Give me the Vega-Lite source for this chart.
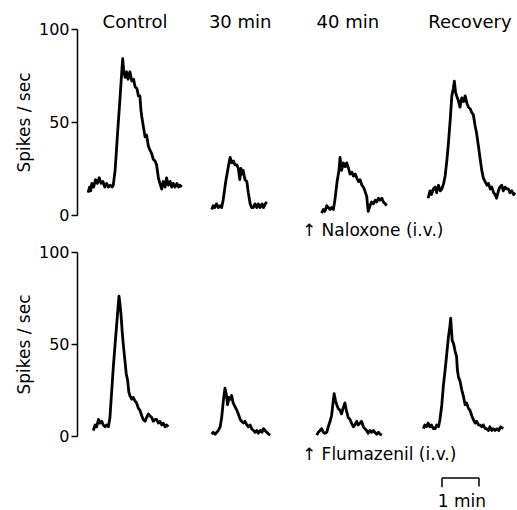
{
  "$schema": "https://vega.github.io/schema/vega-lite/v6.json",
  "autosize": "none",
  "padding": {"left": 77, "top": 29, "right": 440, "bottom": 481},
  "background": "white",
  "config": {
    "view": {"stroke": null},
    "font": "DejaVu Sans",
    "axisY": {
      "domainColor": "black", "domainWidth": 1.5, "tickColor": "black", "tickWidth": 1.5, "tickSize": 6,
      "labelFont": "DejaVu Sans", "labelFontSize": 16, "labelColor": "black", "labelPadding": 2,
      "titleFont": "DejaVu Sans", "titleFontSize": 17, "titleFontWeight": "normal", "titleColor": "black", "titlePadding": 5,
      "grid": false
    }
  },
  "datasets": {
    "top": [
      {"c":"Control","t":0.30,"v":12},{"c":"Control","t":0.34,"v":15},{"c":"Control","t":0.37,"v":13},{"c":"Control","t":0.40,"v":17},{"c":"Control","t":0.45,"v":15},{"c":"Control","t":0.50,"v":19},{"c":"Control","t":0.55,"v":17},{"c":"Control","t":0.60,"v":20},{"c":"Control","t":0.65,"v":17},{"c":"Control","t":0.70,"v":18},{"c":"Control","t":0.75,"v":15},{"c":"Control","t":0.80,"v":17},{"c":"Control","t":0.85,"v":15},{"c":"Control","t":0.90,"v":16},{"c":"Control","t":0.95,"v":15},{"c":"Control","t":0.98,"v":16},{"c":"Control","t":1.03,"v":24},{"c":"Control","t":1.10,"v":45},{"c":"Control","t":1.16,"v":62},{"c":"Control","t":1.22,"v":80},{"c":"Control","t":1.235,"v":84},{"c":"Control","t":1.26,"v":78},{"c":"Control","t":1.30,"v":74},{"c":"Control","t":1.34,"v":77},{"c":"Control","t":1.38,"v":73},{"c":"Control","t":1.43,"v":77},{"c":"Control","t":1.48,"v":72},{"c":"Control","t":1.53,"v":73},{"c":"Control","t":1.57,"v":69},{"c":"Control","t":1.62,"v":68},{"c":"Control","t":1.66,"v":64},{"c":"Control","t":1.70,"v":64},{"c":"Control","t":1.73,"v":56},{"c":"Control","t":1.75,"v":53},{"c":"Control","t":1.79,"v":48},{"c":"Control","t":1.84,"v":42},{"c":"Control","t":1.88,"v":43},{"c":"Control","t":1.93,"v":37},{"c":"Control","t":1.97,"v":35},{"c":"Control","t":2.02,"v":33},{"c":"Control","t":2.06,"v":30},{"c":"Control","t":2.11,"v":29},{"c":"Control","t":2.15,"v":27},{"c":"Control","t":2.20,"v":20},{"c":"Control","t":2.24,"v":17},{"c":"Control","t":2.29,"v":14},{"c":"Control","t":2.33,"v":18},{"c":"Control","t":2.38,"v":15},{"c":"Control","t":2.42,"v":20},{"c":"Control","t":2.47,"v":16},{"c":"Control","t":2.52,"v":18},{"c":"Control","t":2.56,"v":15},{"c":"Control","t":2.60,"v":17},{"c":"Control","t":2.65,"v":15},{"c":"Control","t":2.70,"v":17},{"c":"Control","t":2.75,"v":15},{"c":"Control","t":2.78,"v":16},{"c":"Control","t":2.83,"v":15},
      {"c":"30 min","t":3.64,"v":3},{"c":"30 min","t":3.68,"v":5},{"c":"30 min","t":3.72,"v":4},{"c":"30 min","t":3.77,"v":6},{"c":"30 min","t":3.82,"v":4},{"c":"30 min","t":3.87,"v":5},{"c":"30 min","t":3.91,"v":4},{"c":"30 min","t":3.95,"v":8},{"c":"30 min","t":4.02,"v":18},{"c":"30 min","t":4.09,"v":26},{"c":"30 min","t":4.14,"v":31},{"c":"30 min","t":4.18,"v":28},{"c":"30 min","t":4.23,"v":29},{"c":"30 min","t":4.27,"v":27},{"c":"30 min","t":4.32,"v":27},{"c":"30 min","t":4.36,"v":25},{"c":"30 min","t":4.40,"v":19},{"c":"30 min","t":4.43,"v":25},{"c":"30 min","t":4.46,"v":22},{"c":"30 min","t":4.49,"v":24},{"c":"30 min","t":4.54,"v":19},{"c":"30 min","t":4.59,"v":18},{"c":"30 min","t":4.63,"v":12},{"c":"30 min","t":4.68,"v":6},{"c":"30 min","t":4.72,"v":4},{"c":"30 min","t":4.76,"v":4},{"c":"30 min","t":4.81,"v":6},{"c":"30 min","t":4.86,"v":4},{"c":"30 min","t":4.90,"v":6},{"c":"30 min","t":4.95,"v":4},{"c":"30 min","t":5.00,"v":6},{"c":"30 min","t":5.04,"v":4},{"c":"30 min","t":5.09,"v":6},{"c":"30 min","t":5.13,"v":7},
      {"c":"40 min","t":6.61,"v":1},{"c":"40 min","t":6.66,"v":3},{"c":"40 min","t":6.70,"v":2},{"c":"40 min","t":6.75,"v":5},{"c":"40 min","t":6.79,"v":4},{"c":"40 min","t":6.84,"v":3},{"c":"40 min","t":6.88,"v":4},{"c":"40 min","t":6.93,"v":3},{"c":"40 min","t":6.97,"v":8},{"c":"40 min","t":7.03,"v":18},{"c":"40 min","t":7.08,"v":24},{"c":"40 min","t":7.11,"v":31},{"c":"40 min","t":7.15,"v":24},{"c":"40 min","t":7.20,"v":28},{"c":"40 min","t":7.25,"v":26},{"c":"40 min","t":7.29,"v":28},{"c":"40 min","t":7.34,"v":25},{"c":"40 min","t":7.38,"v":22},{"c":"40 min","t":7.43,"v":23},{"c":"40 min","t":7.47,"v":21},{"c":"40 min","t":7.52,"v":22},{"c":"40 min","t":7.56,"v":20},{"c":"40 min","t":7.61,"v":18},{"c":"40 min","t":7.65,"v":19},{"c":"40 min","t":7.70,"v":16},{"c":"40 min","t":7.74,"v":15},{"c":"40 min","t":7.78,"v":13},{"c":"40 min","t":7.83,"v":10},{"c":"40 min","t":7.87,"v":2},{"c":"40 min","t":7.92,"v":5},{"c":"40 min","t":7.96,"v":7},{"c":"40 min","t":8.01,"v":6},{"c":"40 min","t":8.06,"v":8},{"c":"40 min","t":8.10,"v":7},{"c":"40 min","t":8.15,"v":9},{"c":"40 min","t":8.19,"v":8},{"c":"40 min","t":8.24,"v":9},{"c":"40 min","t":8.28,"v":7},{"c":"40 min","t":8.33,"v":6},{"c":"40 min","t":8.37,"v":5},
      {"c":"Recovery","t":9.49,"v":9},{"c":"Recovery","t":9.54,"v":13},{"c":"Recovery","t":9.58,"v":11},{"c":"Recovery","t":9.63,"v":14},{"c":"Recovery","t":9.68,"v":15},{"c":"Recovery","t":9.72,"v":12},{"c":"Recovery","t":9.77,"v":16},{"c":"Recovery","t":9.82,"v":13},{"c":"Recovery","t":9.86,"v":14},{"c":"Recovery","t":9.91,"v":17},{"c":"Recovery","t":9.95,"v":21},{"c":"Recovery","t":10.00,"v":30},{"c":"Recovery","t":10.04,"v":39},{"c":"Recovery","t":10.09,"v":52},{"c":"Recovery","t":10.13,"v":64},{"c":"Recovery","t":10.17,"v":68},{"c":"Recovery","t":10.20,"v":72},{"c":"Recovery","t":10.23,"v":66},{"c":"Recovery","t":10.26,"v":64},{"c":"Recovery","t":10.30,"v":62},{"c":"Recovery","t":10.35,"v":58},{"c":"Recovery","t":10.40,"v":63},{"c":"Recovery","t":10.45,"v":61},{"c":"Recovery","t":10.49,"v":64},{"c":"Recovery","t":10.54,"v":60},{"c":"Recovery","t":10.58,"v":58},{"c":"Recovery","t":10.63,"v":57},{"c":"Recovery","t":10.67,"v":55},{"c":"Recovery","t":10.71,"v":54},{"c":"Recovery","t":10.76,"v":48},{"c":"Recovery","t":10.80,"v":44},{"c":"Recovery","t":10.85,"v":37},{"c":"Recovery","t":10.89,"v":31},{"c":"Recovery","t":10.94,"v":24},{"c":"Recovery","t":10.98,"v":20},{"c":"Recovery","t":11.03,"v":18},{"c":"Recovery","t":11.08,"v":16},{"c":"Recovery","t":11.12,"v":17},{"c":"Recovery","t":11.17,"v":14},{"c":"Recovery","t":11.21,"v":15},{"c":"Recovery","t":11.26,"v":12},{"c":"Recovery","t":11.30,"v":11},{"c":"Recovery","t":11.34,"v":9},{"c":"Recovery","t":11.39,"v":13},{"c":"Recovery","t":11.43,"v":15},{"c":"Recovery","t":11.48,"v":16},{"c":"Recovery","t":11.52,"v":13},{"c":"Recovery","t":11.57,"v":15},{"c":"Recovery","t":11.61,"v":14},{"c":"Recovery","t":11.66,"v":14},{"c":"Recovery","t":11.70,"v":12},{"c":"Recovery","t":11.75,"v":13},{"c":"Recovery","t":11.80,"v":11},{"c":"Recovery","t":11.84,"v":12}
    ],
    "bottom": [
      {"c":"Control","t":0.44,"v":3},{"c":"Control","t":0.49,"v":6},{"c":"Control","t":0.53,"v":5},{"c":"Control","t":0.58,"v":9},{"c":"Control","t":0.62,"v":7},{"c":"Control","t":0.67,"v":8},{"c":"Control","t":0.71,"v":6},{"c":"Control","t":0.76,"v":5},{"c":"Control","t":0.80,"v":6},{"c":"Control","t":0.85,"v":5},{"c":"Control","t":0.89,"v":10},{"c":"Control","t":0.94,"v":25},{"c":"Control","t":0.98,"v":37},{"c":"Control","t":1.03,"v":50},{"c":"Control","t":1.07,"v":60},{"c":"Control","t":1.11,"v":70},{"c":"Control","t":1.135,"v":76},{"c":"Control","t":1.16,"v":72},{"c":"Control","t":1.19,"v":66},{"c":"Control","t":1.22,"v":57},{"c":"Control","t":1.25,"v":50},{"c":"Control","t":1.28,"v":44},{"c":"Control","t":1.30,"v":40},{"c":"Control","t":1.33,"v":34},{"c":"Control","t":1.37,"v":30},{"c":"Control","t":1.40,"v":24},{"c":"Control","t":1.43,"v":22},{"c":"Control","t":1.48,"v":20},{"c":"Control","t":1.52,"v":21},{"c":"Control","t":1.57,"v":19},{"c":"Control","t":1.61,"v":18},{"c":"Control","t":1.66,"v":15},{"c":"Control","t":1.70,"v":14},{"c":"Control","t":1.75,"v":11},{"c":"Control","t":1.79,"v":9},{"c":"Control","t":1.84,"v":8},{"c":"Control","t":1.88,"v":10},{"c":"Control","t":1.93,"v":12},{"c":"Control","t":1.97,"v":11},{"c":"Control","t":2.02,"v":10},{"c":"Control","t":2.06,"v":8},{"c":"Control","t":2.11,"v":9},{"c":"Control","t":2.15,"v":9},{"c":"Control","t":2.20,"v":7},{"c":"Control","t":2.24,"v":8},{"c":"Control","t":2.29,"v":6},{"c":"Control","t":2.33,"v":7},{"c":"Control","t":2.38,"v":5},{"c":"Control","t":2.42,"v":6},{"c":"Control","t":2.47,"v":5},
      {"c":"30 min","t":3.64,"v":1},{"c":"30 min","t":3.68,"v":2},{"c":"30 min","t":3.73,"v":1},{"c":"30 min","t":3.78,"v":2},{"c":"30 min","t":3.82,"v":3},{"c":"30 min","t":3.87,"v":5},{"c":"30 min","t":3.91,"v":10},{"c":"30 min","t":3.96,"v":20},{"c":"30 min","t":4.00,"v":26},{"c":"30 min","t":4.04,"v":22},{"c":"30 min","t":4.07,"v":17},{"c":"30 min","t":4.11,"v":21},{"c":"30 min","t":4.15,"v":20},{"c":"30 min","t":4.18,"v":22},{"c":"30 min","t":4.22,"v":18},{"c":"30 min","t":4.27,"v":16},{"c":"30 min","t":4.32,"v":14},{"c":"30 min","t":4.36,"v":12},{"c":"30 min","t":4.41,"v":9},{"c":"30 min","t":4.45,"v":8},{"c":"30 min","t":4.50,"v":7},{"c":"30 min","t":4.54,"v":8},{"c":"30 min","t":4.59,"v":6},{"c":"30 min","t":4.63,"v":5},{"c":"30 min","t":4.68,"v":6},{"c":"30 min","t":4.72,"v":4},{"c":"30 min","t":4.77,"v":3},{"c":"30 min","t":4.81,"v":2},{"c":"30 min","t":4.86,"v":3},{"c":"30 min","t":4.90,"v":1.5},{"c":"30 min","t":4.95,"v":3},{"c":"30 min","t":5.00,"v":2},{"c":"30 min","t":5.04,"v":4},{"c":"30 min","t":5.08,"v":3},{"c":"30 min","t":5.13,"v":2},{"c":"30 min","t":5.18,"v":1},{"c":"30 min","t":5.22,"v":0.5},
      {"c":"40 min","t":6.48,"v":0.5},{"c":"40 min","t":6.52,"v":2},{"c":"40 min","t":6.57,"v":3},{"c":"40 min","t":6.61,"v":4},{"c":"40 min","t":6.66,"v":2},{"c":"40 min","t":6.70,"v":1.5},{"c":"40 min","t":6.75,"v":2},{"c":"40 min","t":6.79,"v":5},{"c":"40 min","t":6.84,"v":8},{"c":"40 min","t":6.88,"v":11},{"c":"40 min","t":6.92,"v":18},{"c":"40 min","t":6.95,"v":23},{"c":"40 min","t":6.99,"v":19},{"c":"40 min","t":7.02,"v":17},{"c":"40 min","t":7.06,"v":15},{"c":"40 min","t":7.11,"v":14},{"c":"40 min","t":7.15,"v":12},{"c":"40 min","t":7.19,"v":15},{"c":"40 min","t":7.24,"v":18},{"c":"40 min","t":7.28,"v":14},{"c":"40 min","t":7.33,"v":10},{"c":"40 min","t":7.38,"v":9},{"c":"40 min","t":7.42,"v":7},{"c":"40 min","t":7.47,"v":5},{"c":"40 min","t":7.51,"v":6},{"c":"40 min","t":7.56,"v":8},{"c":"40 min","t":7.60,"v":6},{"c":"40 min","t":7.65,"v":7},{"c":"40 min","t":7.69,"v":8},{"c":"40 min","t":7.74,"v":5},{"c":"40 min","t":7.78,"v":4},{"c":"40 min","t":7.83,"v":3},{"c":"40 min","t":7.87,"v":1.5},{"c":"40 min","t":7.92,"v":3},{"c":"40 min","t":7.96,"v":2},{"c":"40 min","t":8.01,"v":3},{"c":"40 min","t":8.05,"v":2},{"c":"40 min","t":8.10,"v":1},{"c":"40 min","t":8.15,"v":2},{"c":"40 min","t":8.19,"v":1},{"c":"40 min","t":8.24,"v":0.5},
      {"c":"Recovery","t":9.36,"v":4},{"c":"Recovery","t":9.40,"v":6},{"c":"Recovery","t":9.45,"v":5},{"c":"Recovery","t":9.49,"v":7},{"c":"Recovery","t":9.54,"v":5},{"c":"Recovery","t":9.58,"v":6},{"c":"Recovery","t":9.63,"v":4},{"c":"Recovery","t":9.68,"v":4},{"c":"Recovery","t":9.72,"v":6},{"c":"Recovery","t":9.77,"v":5},{"c":"Recovery","t":9.81,"v":9},{"c":"Recovery","t":9.86,"v":17},{"c":"Recovery","t":9.90,"v":27},{"c":"Recovery","t":9.95,"v":36},{"c":"Recovery","t":10.00,"v":46},{"c":"Recovery","t":10.04,"v":54},{"c":"Recovery","t":10.08,"v":60},{"c":"Recovery","t":10.10,"v":64},{"c":"Recovery","t":10.12,"v":58},{"c":"Recovery","t":10.14,"v":52},{"c":"Recovery","t":10.18,"v":50},{"c":"Recovery","t":10.22,"v":46},{"c":"Recovery","t":10.26,"v":43},{"c":"Recovery","t":10.28,"v":36},{"c":"Recovery","t":10.31,"v":32},{"c":"Recovery","t":10.35,"v":30},{"c":"Recovery","t":10.40,"v":25},{"c":"Recovery","t":10.44,"v":22},{"c":"Recovery","t":10.49,"v":17},{"c":"Recovery","t":10.53,"v":18},{"c":"Recovery","t":10.58,"v":15},{"c":"Recovery","t":10.62,"v":14},{"c":"Recovery","t":10.67,"v":11},{"c":"Recovery","t":10.71,"v":9},{"c":"Recovery","t":10.76,"v":7},{"c":"Recovery","t":10.80,"v":8},{"c":"Recovery","t":10.85,"v":6},{"c":"Recovery","t":10.89,"v":6},{"c":"Recovery","t":10.94,"v":5},{"c":"Recovery","t":10.98,"v":6},{"c":"Recovery","t":11.03,"v":4},{"c":"Recovery","t":11.07,"v":4},{"c":"Recovery","t":11.12,"v":3},{"c":"Recovery","t":11.16,"v":5},{"c":"Recovery","t":11.21,"v":3},{"c":"Recovery","t":11.25,"v":4},{"c":"Recovery","t":11.30,"v":3},{"c":"Recovery","t":11.35,"v":4},{"c":"Recovery","t":11.40,"v":3},{"c":"Recovery","t":11.45,"v":5},{"c":"Recovery","t":11.52,"v":4}
    ],
    "headers": [
      {"label":"Control","t":1.57,"v":103},
      {"label":"30 min","t":4.41,"v":103},
      {"label":"40 min","t":7.32,"v":103},
      {"label":"Recovery","t":10.62,"v":103}
    ],
    "noteTop": [{"label":"↑ Naloxone (i.v.)","t":6.08,"v":-8.6}],
    "noteBottom": [{"label":"↑ Flumazenil (i.v.)","t":6.08,"v":-10.3}],
    "scalebar": [
      {"t":9.865,"t2":10.865,"v":-22.8,"v2":-22.8},
      {"t":9.865,"t2":9.865,"v":-22.8,"v2":-27.8},
      {"t":10.865,"t2":10.865,"v":-22.8,"v2":-27.5}
    ],
    "scaleLabel": [{"label":"1 min","t":10.4,"v":-36}]
  },
  "bounds": "flush",
  "spacing": 37,
  "vconcat": [
    {
      "width": 444,
      "height": 186,
      "layer": [
        {
          "data": {"name": "top"},
          "mark": {"type": "line", "color": "black", "strokeWidth": 2.8, "strokeJoin": "round"},
          "encoding": {
            "x": {"field": "t", "type": "quantitative", "scale": {"domain": [0, 12], "nice": false}, "axis": null},
            "y": {"field": "v", "type": "quantitative", "scale": {"domain": [0, 100], "nice": false}, "title": "Spikes / sec", "axis": {"values": [0, 50, 100]}},
            "detail": {"field": "c"}
          }
        },
        {
          "data": {"name": "headers"},
          "mark": {"type": "text", "color": "black", "fontSize": 18, "align": "center", "baseline": "middle"},
          "encoding": {
            "x": {"field": "t", "type": "quantitative", "axis": null},
            "y": {"field": "v", "type": "quantitative", "title": "Spikes / sec", "axis": {"values": [0, 50, 100]}},
            "text": {"field": "label"}
          }
        },
        {
          "data": {"name": "noteTop"},
          "mark": {"type": "text", "color": "black", "fontSize": 17, "align": "left", "baseline": "middle"},
          "encoding": {
            "x": {"field": "t", "type": "quantitative", "axis": null},
            "y": {"field": "v", "type": "quantitative", "title": "Spikes / sec", "axis": {"values": [0, 50, 100]}},
            "text": {"field": "label"}
          }
        }
      ]
    },
    {
      "width": 444,
      "height": 184,
      "layer": [
        {
          "data": {"name": "bottom"},
          "mark": {"type": "line", "color": "black", "strokeWidth": 2.8, "strokeJoin": "round"},
          "encoding": {
            "x": {"field": "t", "type": "quantitative", "scale": {"domain": [0, 12], "nice": false}, "axis": null},
            "y": {"field": "v", "type": "quantitative", "scale": {"domain": [0, 100], "nice": false}, "title": "Spikes / sec", "axis": {"values": [0, 50, 100]}},
            "detail": {"field": "c"}
          }
        },
        {
          "data": {"name": "noteBottom"},
          "mark": {"type": "text", "color": "black", "fontSize": 17, "align": "left", "baseline": "middle"},
          "encoding": {
            "x": {"field": "t", "type": "quantitative", "axis": null},
            "y": {"field": "v", "type": "quantitative", "title": "Spikes / sec", "axis": {"values": [0, 50, 100]}},
            "text": {"field": "label"}
          }
        },
        {
          "data": {"name": "scalebar"},
          "mark": {"type": "rule", "color": "black", "strokeWidth": 1.5},
          "encoding": {
            "x": {"field": "t", "type": "quantitative", "axis": null},
            "x2": {"field": "t2"},
            "y": {"field": "v", "type": "quantitative", "title": "Spikes / sec", "axis": {"values": [0, 50, 100]}},
            "y2": {"field": "v2"}
          }
        },
        {
          "data": {"name": "scaleLabel"},
          "mark": {"type": "text", "color": "black", "fontSize": 17, "align": "center", "baseline": "middle"},
          "encoding": {
            "x": {"field": "t", "type": "quantitative", "axis": null},
            "y": {"field": "v", "type": "quantitative", "title": "Spikes / sec", "axis": {"values": [0, 50, 100]}},
            "text": {"field": "label"}
          }
        }
      ]
    }
  ]
}
